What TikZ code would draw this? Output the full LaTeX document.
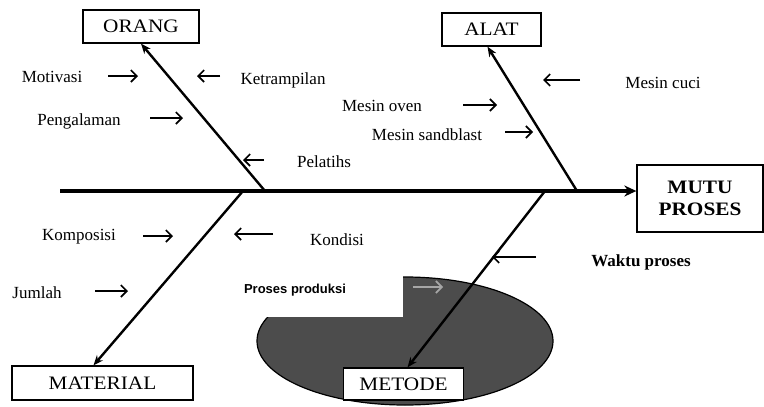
\documentclass[tikz,border=0pt]{standalone}
\usepackage{fontspec}
\setmainfont{Liberation Serif}
\newfontfamily\boxfont{Liberation Serif}[FakeStretch=1.12]
\newfontfamily\sansbold{Liberation Sans}
\usetikzlibrary{arrows.meta}
\begin{document}
\begin{tikzpicture}[x=1pt,y=-1pt,
  box/.style={draw=black,line width=1.3pt,fill=white,inner sep=0pt,font=\boxfont\fontsize{19}{21}\selectfont},
  lab/.style={inner sep=0pt,font=\fontsize{17}{20}\selectfont},
  spine/.style={line width=3.8pt,-{Stealth[length=12pt,width=11pt]}},
  bone/.style={line width=2.4pt,-{Stealth[length=10pt,width=8pt]}},
  small/.style={line width=1.6pt,-{Straight Barb[length=6pt,width=12pt,line width=1.6pt]}}]
\useasboundingbox[fill=white] (0,0) rectangle (764,407);

% shaded ellipse with notch
\fill[black!70,draw=black,line width=1.2pt] (405,341) ellipse [x radius=148pt, y radius=64pt];
\fill[white] (250,262) rectangle (403,317);

% boxes
\node[box,minimum width=116pt,minimum height=33pt] (orang) at (141,26.5) {ORANG};
\node[box,minimum width=99pt,minimum height=33pt] (alat) at (491.5,29.5) {ALAT};
\node[box,minimum width=126pt,minimum height=67pt,align=center,font=\boxfont\bfseries\fontsize{19}{22}\selectfont] (mutu) at (700,198.5) {MUTU\\PROSES};
\node[box,minimum width=181pt,minimum height=34pt] (material) at (102.5,383) {MATERIAL};
\node[box,minimum width=120pt,minimum height=32pt] (metode) at (403.5,384) {METODE};

% spine and bones
\coordinate (tail) at (60,191);
\coordinate (rorang) at (265,191);
\coordinate (ralat) at (577,191);
\coordinate (rmat) at (243,191);
\coordinate (rmet) at (545,191);
\draw[spine] (tail) -- (tail -| mutu.west);
\draw[bone] (rorang) -- (orang.south);
\draw[bone] (ralat) -- ([xshift=-4pt]alat.south);
\draw[bone] (rmat) -- ([xshift=-9pt]material.north);
\draw[bone] (rmet) -- ([xshift=4pt]metode.north);

% labels
\node[lab] (motivasi) at (52,77) {Motivasi};
\node[lab] (ketrampilan) at (283,80) {Ketrampilan};
\node[lab] (pengalaman) at (79,121) {Pengalaman};
\node[lab] (pelatih) at (324,162) {Pelatihs};
\node[lab] (oven) at (382,106) {Mesin oven};
\node[lab] (sandblast) at (427,135) {Mesin sandblast};
\node[lab] (cuci) at (663,83) {Mesin cuci};
\node[lab] (komposisi) at (79,237) {Komposisi};
\node[lab] (kondisi) at (337,240) {Kondisi};
\node[lab] (jumlah) at (37,293) {Jumlah};
\node[lab,font=\sansbold\bfseries\fontsize{13}{15}\selectfont] (produksi) at (295,290) {Proses produksi};
\node[lab,font=\bfseries\fontsize{17}{20}\selectfont] (waktu) at (641,262) {Waktu proses};

% small arrows
\coordinate (a1s) at (108,76);  \coordinate (a1e) at (138,76);
\coordinate (a2s) at (220,76);  \coordinate (a2e) at (197,76);
\coordinate (a3s) at (150,118); \coordinate (a3e) at (183,118);
\coordinate (a4s) at (264,160); \coordinate (a4e) at (243,160);
\coordinate (a5s) at (463,105); \coordinate (a5e) at (497,105);
\coordinate (a6s) at (505,132); \coordinate (a6e) at (533,132);
\coordinate (a7s) at (580,80);  \coordinate (a7e) at (543,80);
\coordinate (a8s) at (143,236); \coordinate (a8e) at (173,236);
\coordinate (a9s) at (273,234); \coordinate (a9e) at (234,234);
\coordinate (a10s) at (95,291); \coordinate (a10e) at (128,291);
\coordinate (a11s) at (413,287); \coordinate (a11e) at (443,287);
\coordinate (a12s) at (536,257); \coordinate (a12e) at (492,257);
\draw[small] (a1s) -- (a1e);
\draw[small] (a2s) -- (a2e);
\draw[small] (a3s) -- (a3e);
\draw[small] (a4s) -- (a4e);
\draw[small] (a5s) -- (a5e);
\draw[small] (a6s) -- (a6e);
\draw[small] (a7s) -- (a7e);
\draw[small] (a8s) -- (a8e);
\draw[small] (a9s) -- (a9e);
\draw[small] (a10s) -- (a10e);
\draw[small,draw=black!35] (a11s) -- (a11e);
\draw[small,line width=2pt] (a12s) -- (a12e);
\end{tikzpicture}
\end{document}
